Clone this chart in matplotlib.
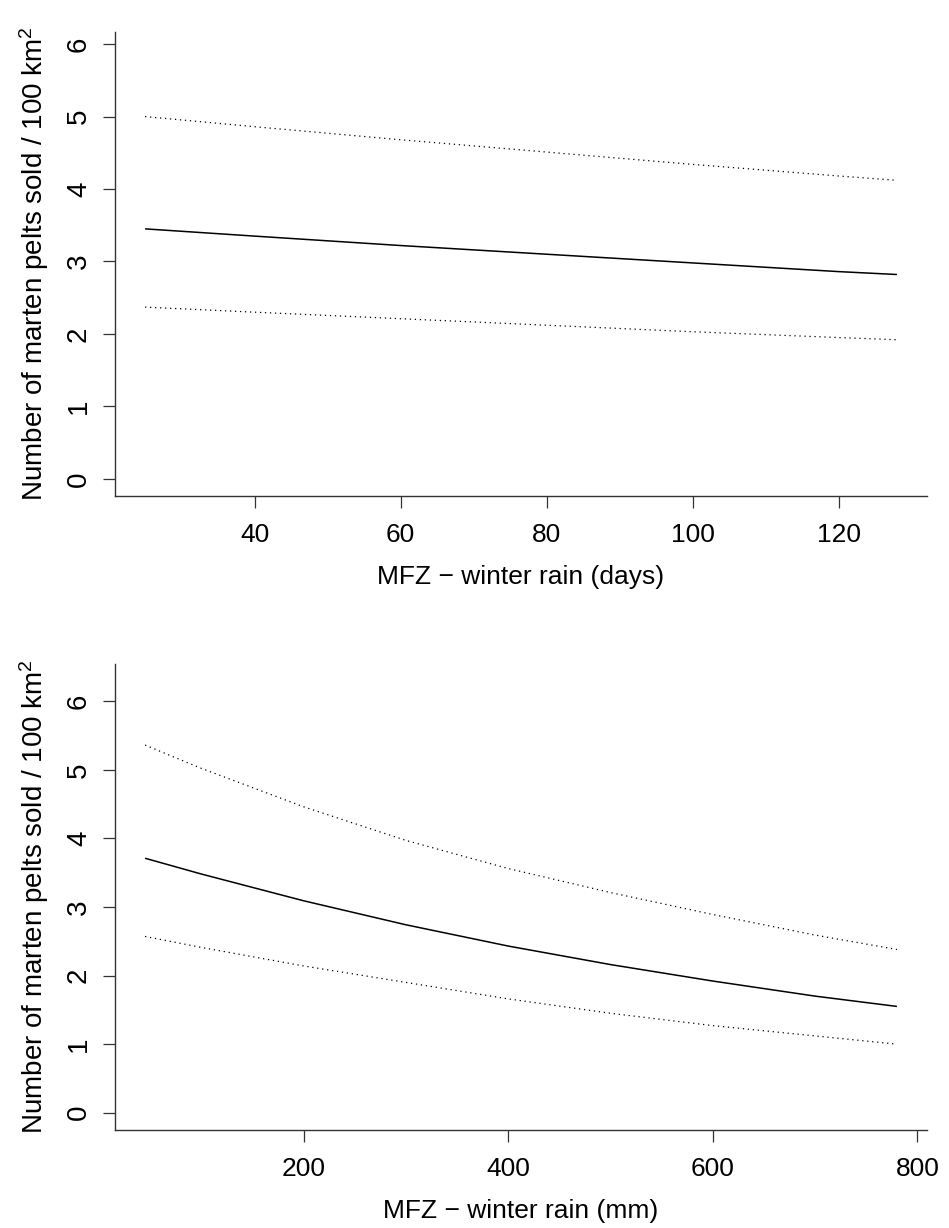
import numpy as np
import matplotlib
matplotlib.use("Agg")
import matplotlib.pyplot as plt

plt.rcParams["font.family"] = ["Liberation Sans", "DejaVu Sans"]
plt.rcParams["mathtext.fontset"] = "custom"
plt.rcParams["mathtext.rm"] = "Liberation Sans"
plt.rcParams["mathtext.it"] = "Liberation Sans:italic"

# Predicted pelts sold vs. number of winter rain days
days = [25, 40, 60, 80, 100, 120, 128]
days_fit = [3.45, 3.35, 3.22, 3.10, 2.98, 2.86, 2.82]
days_upper = [5.00, 4.86, 4.68, 4.51, 4.34, 4.18, 4.12]
days_lower = [2.37, 2.30, 2.21, 2.12, 2.03, 1.95, 1.92]

# Predicted pelts sold vs. winter rain amount
rain_mm = [45, 100, 200, 300, 400, 500, 600, 700, 780]
mm_fit = [3.71, 3.48, 3.09, 2.74, 2.43, 2.16, 1.92, 1.70, 1.55]
mm_upper = [5.36, 5.02, 4.46, 3.97, 3.56, 3.21, 2.89, 2.59, 2.38]
mm_lower = [2.57, 2.41, 2.14, 1.90, 1.66, 1.45, 1.27, 1.12, 1.00]

days_xticks = [40, 60, 80, 100, 120]
mm_xticks = [200, 400, 600, 800]
yticks = [0, 1, 2, 3, 4, 5, 6]

YLAB = "Number of marten pelts sold / 100 km$^2$"
AXCOL = "#333333"
FS_X = 19
FS_Y = 20


def r_range(lo, hi):
    # R-style 4% padding on both ends
    pad = 0.04 * (hi - lo)
    return lo - pad, hi + pad


def effect_panel(ax, x, fit, upper, lower, xticks, xlabel, ytop):
    x = np.asarray(x)
    ax.plot(x, fit, color="black", lw=1.1, solid_capstyle="butt")
    ax.plot(x, upper, color="black", lw=0.9, linestyle=(0, (1, 3)))
    ax.plot(x, lower, color="black", lw=0.9, linestyle=(0, (1, 3)))
    ax.set_xlim(*r_range(x.min(), x.max()))
    ax.set_ylim(*r_range(0, ytop))
    ax.set_xticks(xticks)
    ax.set_yticks(yticks)
    ax.set_yticklabels([str(v) for v in yticks], rotation=90, va="center")
    for side in ["top", "right"]:
        ax.spines[side].set_visible(False)
    for side in ["left", "bottom"]:
        ax.spines[side].set_color(AXCOL)
        ax.spines[side].set_linewidth(1.0)
    ax.tick_params(direction="out", length=8.6, width=0.9, color=AXCOL)
    ax.tick_params(axis="x", labelsize=FS_X, pad=11)
    ax.tick_params(axis="y", labelsize=FS_Y, pad=8)
    ax.set_xlabel(xlabel, fontsize=FS_X, labelpad=13)
    ax.set_ylabel(YLAB, fontsize=FS_Y, va="center")
    ax.yaxis.set_label_coords(-0.1, 0.5)


fig = plt.figure(figsize=(9.49, 12.28), dpi=100)
ax1 = fig.add_axes([0.12118, 0.59609, 0.85564, 0.37785])
ax2 = fig.add_axes([0.12118, 0.07980, 0.85564, 0.37948])

effect_panel(ax1, days, days_fit, days_upper, days_lower, days_xticks,
             "MFZ \u2212 winter rain (days)", 5.93)
effect_panel(ax2, rain_mm, mm_fit, mm_upper, mm_lower, mm_xticks,
             "MFZ \u2212 winter rain (mm)", 6.29)

fig.savefig("out.png", dpi=100)
